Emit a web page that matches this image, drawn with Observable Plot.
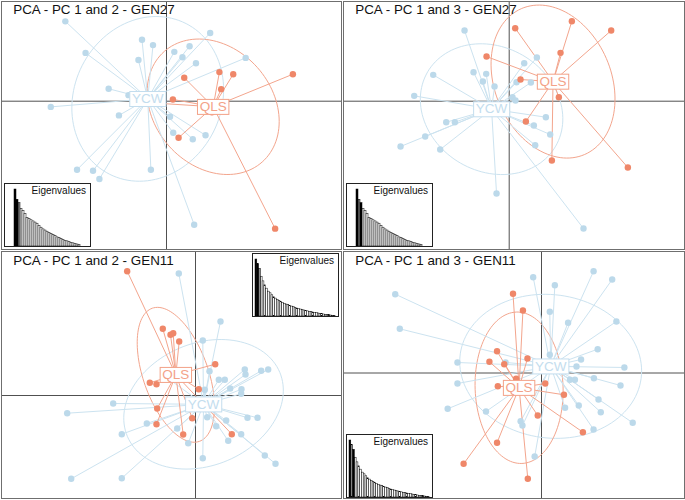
<!DOCTYPE html>
<html><head><meta charset="utf-8">
<script src="https://cdn.jsdelivr.net/npm/d3@7"></script>
<script src="https://cdn.jsdelivr.net/npm/@observablehq/plot@0.6"></script>
<style>
body{margin:0;background:#fff;font-family:"Liberation Sans",Arial,sans-serif}
#wrap{position:relative;width:685px;height:500px;overflow:hidden;background:#fff}
.panel{position:absolute}
.inset{position:absolute;box-sizing:border-box;border:1px solid #222;background:#fff;width:87px;height:64px}
.inset .lab{position:absolute;right:4px;top:2px;font-size:10px;line-height:10px;color:#111;white-space:nowrap}
.inset svg{position:absolute;left:0;top:0}
</style></head>
<body><div id="wrap"></div>
<script>
// ---------------- data ----------------
const popNames = ["YCW", "QLS"];
const titles = ["PCA - PC 1 and 2 - GEN27", "PCA - PC 1 and 3 - GEN27", "PCA - PC 1 and 2 - GEN11", "PCA - PC 1 and 3 - GEN11"];

// GEN27 principal component scores
const g27_ycw_pc1 = [-3.26,-2.85,-2.52,-2.28,-2.07,-1.89,-1.63,-1.34,-1.07,-0.79,-0.69,-0.44,-0.38,0.10,0.19,0.22,0.45,0.65,0.74,0.78,0.83,1.10,1.23,2.23];
const g27_ycw_pc2 = [-0.16,2.25,-1.93,1.36,-1.96,-2.19,0.35,-0.40,0.17,1.16,1.73,-1.93,1.58,-0.44,-0.89,1.39,1.24,1.55,-1.07,-3.48,1.07,-0.96,1.92,1.22];
const g27_ycw_pc3 = [-1.36,0.16,-1.06,0.79,-1.45,-0.63,-0.63,2.12,0.87,0.59,0.82,0.44,-2.77,0.12,0.02,0.57,1.14,0.56,-0.73,-1.32,1.31,-0.48,-1.00,-3.82];
const g27_qls_pc1 = [0.18,0.34,0.50,1.49,1.54,1.88,3.06,3.56,-0.68,1.28];
const g27_qls_pc2 = [0.05,-1.03,0.66,0.82,0.34,0.76,-3.59,0.76,-0.03,-0.31];
const g27_qls_pc3 = [2.19,0.65,-0.61,0.12,1.45,2.40,2.12,-1.99,1.34,-1.78];

// GEN11 principal component scores
const g11_ycw_pc1 = [-4.277,-4.143,-2.743,-2.457,-2.457,-1.623,-1.05,-0.610,-0.557,-0.243,-0.200,0.243,0.243,0.310,0.390,0.467,0.690,0.777,0.833,0.977,1.023,1.090,1.157,1.523,1.523,1.533,1.643,1.667,1.733,2.067,2.190,2.310,2.423,2.667];
const g11_ycw_pc2 = [-0.590,-2.777,-0.267,-1.290,-2.757,-0.933,0.667,-1.100,4.067,-1.590,-0.267,1.833,-2.090,0.190,-0.723,0.810,-1.023,0.523,2.467,0.523,-0.833,-1.510,0.233,0.057,-1.290,0.210,0.867,0.700,-0.743,-0.743,0.823,-2.000,0.867,-2.277];
const g11_ycw_pc3 = [2.304,1.292,-1.047,0.307,-0.307,-1.126,0.307,-1.409,-1.535,2.801,-2.442,1.789,0.532,0.190,2.567,0.190,-1.018,1.468,-0.199,-0.199,0.190,-0.950,0.395,2.977,-1.652,-0.152,0.696,-0.775,-1.146,2.734,1.506,-0.365,0.161,-1.456];
const g11_qls_pc1 = [-2.277,-1.523,-1.300,-1.277,-1.300,-1.090,-0.833,-0.743,-0.543,-0.410,-0.400,-0.110,0.110,0.657,1.210];
const g11_qls_pc2 = [4.143,0.423,0.377,-0.433,-0.957,2.223,2.023,2.077,1.800,-1.300,0.767,-0.757,0.210,1.043,-1.290];
const g11_qls_pc3 = [-2.655,0.327,0.637,-0.386,-2.041,0.257,2.316,-0.170,1.827,0.424,-3.094,-1.243,-0.307,-0.637,-1.731];

// eigenvalues (relative)
const eig27 = [10,8.2,7.6,6.6,6.2,5.7,5.0,4.8,4.6,4.4,4.2,4.0,3.6,3.3,3.0,2.8,2.6,2.4,2.2,2.0,1.8,1.6,1.45,1.3,1.15,1.0,0.9,0.8,0.65,0.55,0.45,0.35,0.25];
const eig11 = [17.2,15.8,14.4,12.0,10.6,9.4,8.4,7.5,7.0,6.4,5.8,5.4,5.0,4.7,4.4,4.1,3.8,3.6,3.4,3.2,3.0,2.8,2.6,2.4,2.2,2.1,1.9,1.8,1.7,1.55,1.4,1.3,1.2,1.1,1.0,0.9,0.8,0.7,0.6,0.5,0.45,0.4,0.3,0.2,0.1];

// ---------------- styles ----------------
const style = {
  YCW: {dot: "#bcd9ea", line: "#cce3f0", label: "#c3ddee"},
  QLS: {dot: "#ef8769", line: "#f3a58d", label: "#f3a288"}
};
const FONT = "Liberation Sans, Arial, sans-serif";

function inds(pop, a, b, c) { return a.map((v, i) => ({pop, pc1: v, pc2: b[i], pc3: c[i]})); }
const gen27 = [...inds("YCW", g27_ycw_pc1, g27_ycw_pc2, g27_ycw_pc3), ...inds("QLS", g27_qls_pc1, g27_qls_pc2, g27_qls_pc3)];
const gen11 = [...inds("YCW", g11_ycw_pc1, g11_ycw_pc2, g11_ycw_pc3), ...inds("QLS", g11_qls_pc1, g11_qls_pc2, g11_qls_pc3)];

// covariance ellipse (ade4 s.class style, cellipse = 1.5)
function ellipse(pts, xk, yk, k = 1.5, n = 120) {
  const mx = d3.mean(pts, d => d[xk]), my = d3.mean(pts, d => d[yk]);
  const vx = d3.mean(pts, d => (d[xk] - mx) ** 2), vy = d3.mean(pts, d => (d[yk] - my) ** 2);
  const cxy = d3.mean(pts, d => (d[xk] - mx) * (d[yk] - my));
  const delta = Math.sqrt((vx - vy) ** 2 + 4 * cxy * cxy);
  const l1 = (vx + vy + delta) / 2, l2 = Math.max(vx + vy - l1, 0);
  const th = Math.abs(cxy) < 1e-12 ? (vx >= vy ? 0 : Math.PI / 2) : Math.atan2(l1 - vx, cxy);
  const a = k * Math.sqrt(l1), b = k * Math.sqrt(l2);
  return d3.range(n).map(i => {
    const t = 2 * Math.PI * i / n, u = a * Math.cos(t), v = b * Math.sin(t);
    return {x: mx + u * Math.cos(th) - v * Math.sin(th), y: my + u * Math.sin(th) + v * Math.cos(th)};
  });
}

const panels = [
  {data: gen27, yk: "pc2", title: titles[0], eig: eig27, axes: [1, 2], left: 0, top: 0, W: 342, H: 250, m: [1, 1, 1, 1], ox: 166, oy: 100.7, s: 35.5, tdy: 3, inset: [4, 183]},
  {data: gen27, yk: "pc3", title: titles[1], eig: eig27, axes: [1, 3], left: 342, top: 0, W: 343, H: 250, m: [1, 1, 1, 1], ox: 166.7, oy: 100.7, s: 33.33, tdy: 3, inset: [346, 183]},
  {data: gen11, yk: "pc2", title: titles[2], eig: eig11, axes: [1, 2], left: 0, top: 250, W: 342, H: 250, m: [1, 1, 2, 1], ox: 195, oy: 145, s: 30, tdy: 4.3, inset: [252, 253]},
  {data: gen11, yk: "pc3", title: titles[3], eig: eig11, axes: [1, 3], left: 342, top: 250, W: 343, H: 250, m: [1, 1, 2, 1], ox: 199, oy: 122.5, s: 34.2, tdy: 4.3, inset: [346, 434]}
];

const wrap = document.getElementById("wrap");

for (const p of panels) {
  const [mT, mR, mB, mL] = p.m;
  const xDom = [(mL - p.ox) / p.s, (p.W - mR - p.ox) / p.s];
  const yDom = [(p.oy - (p.H - mB)) / p.s, (p.oy - mT) / p.s];
  const marks = [
    Plot.ruleX([0], {stroke: "#505050", strokeWidth: 1}),
    Plot.ruleY([0], {stroke: "#505050", strokeWidth: 1})
  ];
  const cents = [];
  const grp = {};
  for (const pop of popNames) {
    const g = p.data.filter(d => d.pop === pop);
    grp[pop] = g;
    cents.push({pop, x: d3.mean(g, d => d.pc1), y: d3.mean(g, d => d[p.yk])});
  }
  for (const pop of popNames) {
    marks.push(Plot.line(ellipse(grp[pop], "pc1", p.yk), {x: "x", y: "y", stroke: style[pop].line, strokeWidth: 1, curve: "linear-closed"}));
  }
  for (const pop of popNames) {
    const c = cents.find(d => d.pop === pop);
    marks.push(Plot.link(grp[pop], {x1: () => c.x, y1: () => c.y, x2: "pc1", y2: p.yk, stroke: style[pop].line, strokeWidth: 1}));
  }
  for (const pop of popNames) {
    marks.push(Plot.dot(grp[pop], {x: "pc1", y: p.yk, r: 3.2, fill: style[pop].dot, stroke: "none"}));
  }
  for (const pop of popNames) {
    const c = cents.find(d => d.pop === pop);
    marks.push(Plot.text([c], {x: "x", y: "y", text: "pop", fill: style[pop].label, fontSize: 13.5, fontFamily: FONT}));
  }
  marks.push(Plot.frame({stroke: "#6f6f6f", strokeWidth: 1}));
  marks.push(Plot.text([p.title], {frameAnchor: "top-left", lineAnchor: "top", dx: 11.7, dy: p.tdy, fontSize: 13.4, fill: "#111", fontFamily: FONT}));

  const svg = Plot.plot({
    width: p.W, height: p.H,
    marginTop: mT, marginRight: mR, marginBottom: mB, marginLeft: mL,
    x: {domain: xDom, axis: null},
    y: {domain: yDom, axis: null},
    style: {fontFamily: FONT, background: "#fff"},
    marks
  });
  const div = document.createElement("div");
  div.className = "panel";
  div.style.left = p.left + "px";
  div.style.top = p.top + "px";
  div.appendChild(svg);
  wrap.appendChild(div);

  // white boxes behind group labels
  svg.querySelectorAll("text").forEach(t => {
    const name = t.textContent;
    if (!style[name]) return;
    const bb = t.getBBox();
    const r = document.createElementNS("http://www.w3.org/2000/svg", "rect");
    r.setAttribute("x", bb.x - 2.2);
    r.setAttribute("y", bb.y + 0.3);
    r.setAttribute("width", bb.width + 4.4);
    r.setAttribute("height", bb.height);
    r.setAttribute("fill", "#fff");
    r.setAttribute("stroke", style[name].label);
    r.setAttribute("stroke-width", 1);
    const tr = t.getAttribute("transform");
    if (tr) r.setAttribute("transform", tr);
    t.parentNode.insertBefore(r, t);
  });

  // eigenvalue inset
  const eigData = p.eig.map((v, i) => ({k: i + 1, v, kind: p.axes.includes(i + 1) ? "sel" : (i < 3 ? "kept" : "other")}));
  const inset = document.createElement("div");
  inset.className = "inset";
  inset.style.left = p.inset[0] + "px";
  inset.style.top = p.inset[1] + "px";
  const fills = {sel: "#000", kept: "#8a8a8a", other: "#fff"};
  const isvg = Plot.plot({
    width: 85, height: 62,
    marginTop: 5, marginRight: 3, marginBottom: 0, marginLeft: 2,
    x: {type: "band", domain: eigData.map(d => d.k), padding: 0, axis: null},
    y: {domain: [0, d3.max(p.eig)], axis: null},
    style: {background: "transparent"},
    marks: ["other", "kept", "sel"].map(kind =>
      Plot.barY(eigData.filter(d => d.kind === kind), {x: "k", y: "v", fill: fills[kind], stroke: "#000", strokeWidth: 0.5}))
  });
  inset.appendChild(isvg);
  const lab = document.createElement("span");
  lab.className = "lab";
  lab.textContent = "Eigenvalues";
  inset.appendChild(lab);
  wrap.appendChild(inset);
}
</script>
</body></html>
